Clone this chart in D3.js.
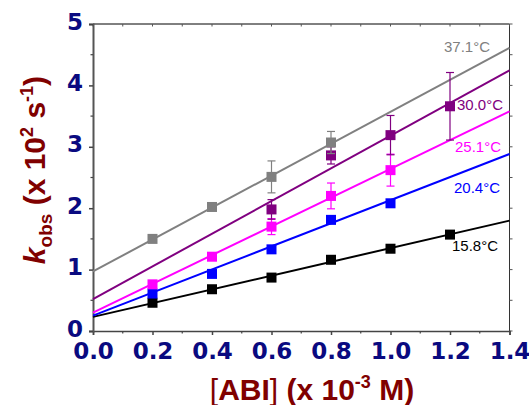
<!DOCTYPE html>
<html><head><meta charset="utf-8">
<script src="https://cdn.jsdelivr.net/npm/d3@7"></script>
<style>body{margin:0;background:#fff}svg{display:block}</style>
</head><body>
<svg id="c" width="529" height="405"></svg>
<script>
// ---- data ----
const xTicks = [0.0, 0.2, 0.4, 0.6, 0.8, 1.0, 1.2, 1.4];
const yTicks = [0, 1, 2, 3, 4, 5];
const seriesNames = ["15.8°C", "20.4°C", "25.1°C", "30.0°C", "37.1°C"];
const seriesColors = ["#000000", "#0000ff", "#ff00ff", "#800080", "#808080"];
const xs158 = [0.2, 0.4, 0.6, 0.8, 1.0, 1.2];
const ys158 = [0.46, 0.68, 0.87, 1.16, 1.34, 1.57];
const es158 = [0.02, 0.02, 0.03, 0.03, 0.03, 0.04];
const xs204 = [0.2, 0.4, 0.6, 0.8, 1.0];
const ys204 = [0.61, 0.93, 1.33, 1.81, 2.08];
const es204 = [0.03, 0.03, 0.03, 0.04, 0.04];
const xs251 = [0.2, 0.4, 0.6, 0.8, 1.0];
const ys251 = [0.76, 1.21, 1.70, 2.20, 2.62];
const es251 = [0.04, 0.05, 0.13, 0.21, 0.26];
const xs300 = [0.6, 0.8, 1.0, 1.2];
const ys300 = [1.98, 2.86, 3.19, 3.66];
const es300 = [0.16, 0.14, 0.32, 0.55];
const xs371 = [0.2, 0.4, 0.6, 0.8];
const ys371 = [1.50, 2.02, 2.51, 3.07];
const es371 = [0.03, 0.05, 0.26, 0.18];
// linear fit lines (intercept, slope)
const fitIntercepts = [0.23, 0.25, 0.30, 0.52, 0.97];
const fitSlopes = [1.12, 1.88, 2.34, 2.66, 2.60];

const series = [
  {x: xs158, y: ys158, e: es158},
  {x: xs204, y: ys204, e: es204},
  {x: xs251, y: ys251, e: es251},
  {x: xs300, y: ys300, e: es300},
  {x: xs371, y: ys371, e: es371}
];

// ---- layout ----
const L = 93, R = 509.5, T = 24, B = 331;
const x = d3.scaleLinear().domain([0, 1.4]).range([L, R]);
const y = d3.scaleLinear().domain([0, 5]).range([B, T]);
const svg = d3.select("#c");
const navy = "#0a0a80", dred = "#800000";
const tickFont = "'DejaVu Sans', sans-serif";

// frame
svg.append("line").attr("x1", L).attr("x2", R).attr("y1", T).attr("y2", T).attr("stroke", "#000").attr("stroke-width", 1);
svg.append("line").attr("x1", R).attr("x2", R).attr("y1", T).attr("y2", B).attr("stroke", "#333").attr("stroke-width", 1);

// minor ticks top and right
const xMinor = d3.range(0, 1.401, 0.1);
const yMinor = d3.range(0, 5.001, 0.5);
svg.append("g").selectAll("line").data(xMinor).join("line")
  .attr("x1", d => x(d)).attr("x2", d => x(d)).attr("y1", T).attr("y2", T + 2.5)
  .attr("stroke", "#555").attr("stroke-width", 1);
svg.append("g").selectAll("line").data(yMinor).join("line")
  .attr("x1", R).attr("x2", R + 3).attr("y1", d => y(d)).attr("y2", d => y(d))
  .attr("stroke", "#555").attr("stroke-width", 1);

// bottom axis
const gx = svg.append("g").attr("transform", `translate(0,${B})`)
  .call(d3.axisBottom(x).tickValues(xTicks).tickFormat(d3.format(".1f")).tickSize(4).tickPadding(8));
gx.select(".domain").attr("stroke", "#444").attr("stroke-width", 1.5);
gx.selectAll(".tick line").attr("stroke", "#444").attr("stroke-width", 1.5);
gx.selectAll("text").attr("font-family", tickFont).attr("font-weight", "bold")
  .attr("font-size", 23).attr("fill", navy);
svg.append("g").selectAll("line").data(d3.range(0.1, 1.4, 0.2)).join("line")
  .attr("x1", d => x(d)).attr("x2", d => x(d)).attr("y1", B).attr("y2", B + 2.5)
  .attr("stroke", "#444").attr("stroke-width", 1.2);

// left axis
const gy = svg.append("g").attr("transform", `translate(${L},0)`)
  .call(d3.axisLeft(y).tickValues(yTicks).tickFormat(d3.format("d")).tickSize(4).tickPadding(6));
gy.select(".domain").attr("stroke", "#555").attr("stroke-width", 2);
gy.selectAll(".tick line").attr("stroke", "#444").attr("stroke-width", 1.5);
gy.selectAll("text").attr("font-family", tickFont).attr("font-weight", "bold")
  .attr("font-size", 23).attr("fill", navy).attr("dy", "0.22em");
svg.append("g").selectAll("line").data(d3.range(0.5, 5, 1)).join("line")
  .attr("x1", L).attr("x2", L - 2.5).attr("y1", d => y(d)).attr("y2", d => y(d))
  .attr("stroke", "#444").attr("stroke-width", 1.2);

// fit lines
const line = d3.line().x(d => x(d[0])).y(d => y(d[1]));
series.forEach((s, i) => {
  svg.append("path")
    .attr("d", line([[0, fitIntercepts[i]], [1.4, fitIntercepts[i] + fitSlopes[i] * 1.4]]))
    .attr("stroke", seriesColors[i]).attr("stroke-width", 2).attr("fill", "none");
});

// error bars and markers
series.forEach((s, i) => {
  const g = svg.append("g");
  const pts = s.x.map((xv, j) => ({x: xv, y: s.y[j], e: s.e[j]}));
  g.selectAll(".eb").data(pts).join("line")
    .attr("x1", d => x(d.x)).attr("x2", d => x(d.x))
    .attr("y1", d => y(d.y - d.e)).attr("y2", d => y(d.y + d.e))
    .attr("stroke", seriesColors[i]).attr("stroke-width", 1.2);
  ["top", "bot"].forEach(k => {
    g.selectAll(".cap" + k).data(pts).join("line")
      .attr("x1", d => x(d.x) - 4).attr("x2", d => x(d.x) + 4)
      .attr("y1", d => y(k === "top" ? d.y + d.e : d.y - d.e))
      .attr("y2", d => y(k === "top" ? d.y + d.e : d.y - d.e))
      .attr("stroke", seriesColors[i]).attr("stroke-width", 1.2);
  });
  g.selectAll("rect").data(pts).join("rect")
    .attr("x", d => x(d.x) - 5).attr("y", d => y(d.y) - 5)
    .attr("width", 10).attr("height", 10).attr("fill", seriesColors[i]);
});

// series labels
const labelPos = [[452, 251], [454, 193], [455, 152], [457, 110], [444, 52]];
seriesNames.forEach((n, i) => {
  svg.append("text").attr("x", labelPos[i][0]).attr("y", labelPos[i][1])
    .attr("font-family", "'Liberation Sans', Arial, sans-serif").attr("font-size", 15)
    .attr("fill", seriesColors[i]).text(n);
});

// axis titles
const xt = svg.append("text").attr("x", 312).attr("y", 400).attr("text-anchor", "middle")
  .attr("font-family", "'Liberation Sans', Arial, sans-serif").attr("font-weight", "bold")
  .attr("font-size", 30).attr("fill", dred);
xt.append("tspan").attr("font-weight", "normal").text("[");
xt.append("tspan").text("ABI");
xt.append("tspan").attr("font-weight", "normal").text("]");
xt.append("tspan").text(" (x 10");
xt.append("tspan").attr("font-size", 18).attr("dy", -12).text("-3");
xt.append("tspan").attr("dy", 12).text(" M)");

const yt = svg.append("text").attr("transform", "translate(45,170) rotate(-90)")
  .attr("text-anchor", "middle")
  .attr("font-family", "'Liberation Sans', Arial, sans-serif").attr("font-weight", "bold")
  .attr("font-size", 30).attr("fill", dred);
yt.append("tspan").attr("font-style", "italic").text("k");
yt.append("tspan").attr("font-size", 19).attr("dy", 7).text("obs");
yt.append("tspan").attr("dy", -7).text(" (x 10");
yt.append("tspan").attr("font-size", 18).attr("dy", -12).text("2");
yt.append("tspan").attr("dy", 12).text(" s");
yt.append("tspan").attr("font-size", 18).attr("dy", -12).text("-1");
yt.append("tspan").attr("dy", 12).text(")");
</script>
</body></html>
